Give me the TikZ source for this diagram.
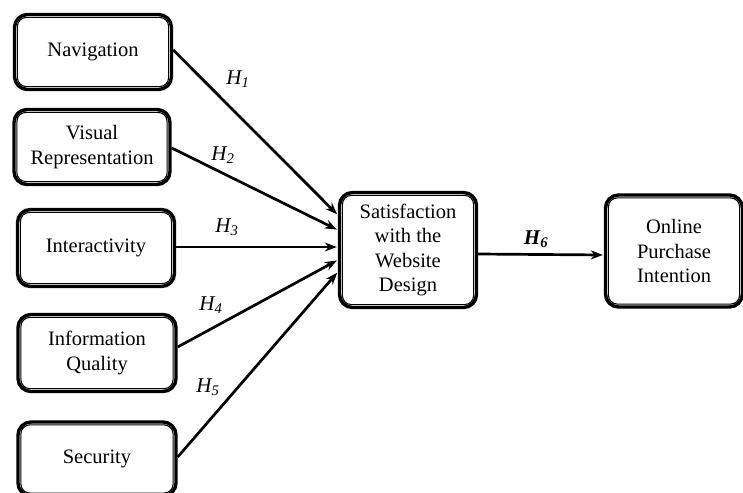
\documentclass[tikz,border=0pt]{standalone}
\usepackage{fontspec}
\setmainfont{Liberation Serif}
\usetikzlibrary{arrows.meta}
\tikzset{
  box/.style={draw, line width=3.4pt, rounded corners=13pt, align=center,
    font=\fontsize{20.5}{24.5}\selectfont, inner sep=0pt},
  conn/.style={line width=2.7pt, -{Stealth[length=12pt,width=9pt]}, shorten >=1pt},
  hlab/.style={font=\fontsize{21}{24}\selectfont\itshape, inner sep=0pt},
}
\begin{document}
\begin{tikzpicture}[x=1pt,y=-1pt]
\useasboundingbox (0,0) rectangle (743,492);
\node[box, minimum width=157pt, minimum height=75pt] (nav) at (93,52) {Navigation};
\node[box, minimum width=156pt, minimum height=75pt] (vis) at (92,147) {Visual\\Representation};
\node[box, minimum width=157pt, minimum height=77pt] (int) at (96,248) {Interactivity};
\node[box, minimum width=158pt, minimum height=77pt] (inf) at (97,353) {Information\\Quality};
\node[box, minimum width=158pt, minimum height=74pt] (sec) at (97,459) {Security};
\node[box, minimum width=137pt, minimum height=115pt] (sat) at (408,250) {Satisfaction\\with the\\Website\\Design};
\node[box, minimum width=137pt, minimum height=112pt] (opi) at (674,251) {Online\\Purchase\\Intention};
\foreach \n in {nav,vis,int,inf,sec,sat,opi}
  \draw[line width=1.1pt, rounded corners=9pt]
    ([shift={(4.6pt,4.6pt)}]\n.south west) rectangle ([shift={(-4.6pt,-4.6pt)}]\n.north east);
\draw[conn] ([yshift=2pt]nav.east) -- ([yshift=35pt]sat.west);
\draw[conn] ([yshift=-1pt]vis.east) -- ([yshift=20pt]sat.west);
\draw[conn] ([yshift=1pt]int.east) -- ([yshift=3pt]sat.west);
\draw[conn] ([yshift=6pt]inf.east) -- ([yshift=-10pt]sat.west);
\draw[conn] ([yshift=2pt]sec.east) -- ([yshift=-22pt]sat.west);
\draw[conn] ([yshift=-4pt]sat.east) -- ([yshift=-4pt]opi.west);
\node[hlab] (h1) at (238,79) {H\textsubscript{1}};
\node[hlab] (h2) at (223,155) {H\textsubscript{2}};
\node[hlab] (h3) at (227,227) {H\textsubscript{3}};
\node[hlab] (h4) at (211,305) {H\textsubscript{4}};
\node[hlab] (h5) at (208,387) {H\textsubscript{5}};
\node[hlab, font=\fontsize{21}{24}\selectfont\itshape\bfseries] (h6) at (536,239) {H\textsubscript{6}};
\end{tikzpicture}
\end{document}
